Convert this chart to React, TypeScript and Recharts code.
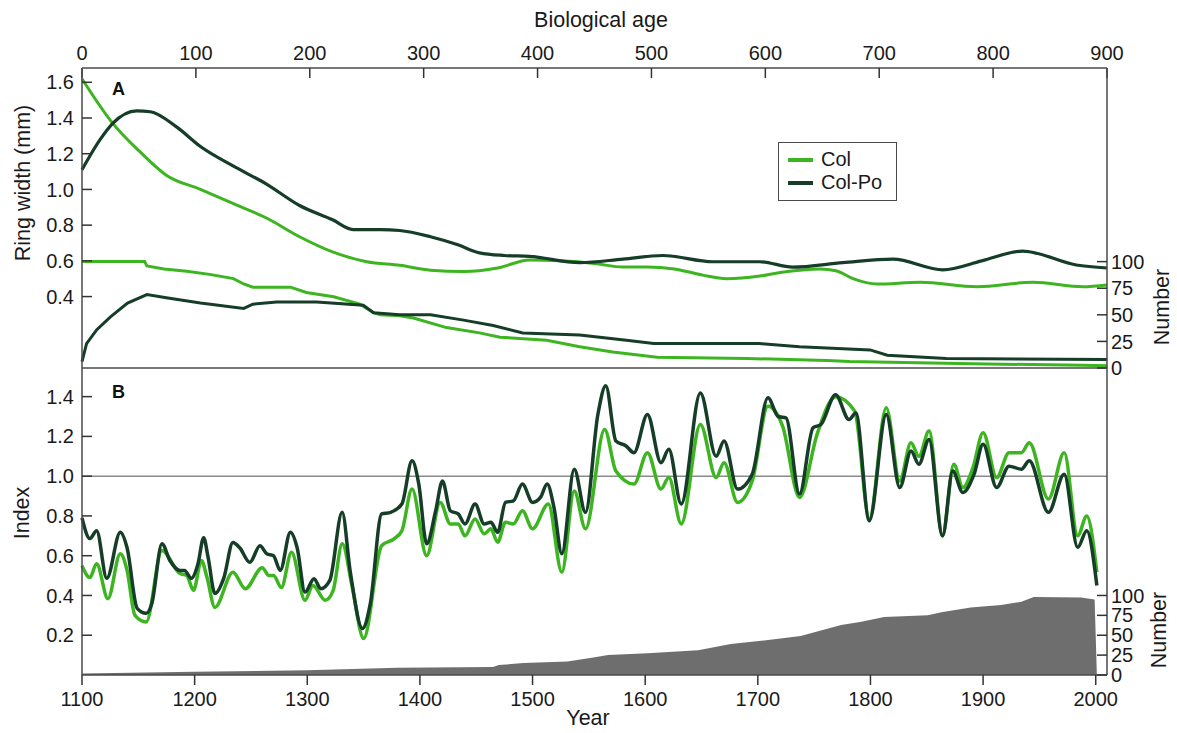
import React from 'react'
import { ComposedChart, Line, Area, XAxis, YAxis, ReferenceLine, Legend } from 'recharts'

// Panel A: mean ring width and sample depth against biological age
const colWidthAge = [0, 27, 51, 74, 104, 133, 162, 191, 220, 250, 279, 306, 335, 365, 393, 420, 450, 475, 496, 520, 545, 566, 595, 613, 648, 662, 677, 698, 736, 786, 835, 879, 900]
const colWidth = [1.62, 1.37, 1.21, 1.08, 1.0, 0.92, 0.84, 0.735, 0.65, 0.595, 0.575, 0.548, 0.54, 0.56, 0.605, 0.6, 0.585, 0.565, 0.565, 0.555, 0.52, 0.5, 0.515, 0.535, 0.555, 0.545, 0.5, 0.47, 0.48, 0.455, 0.48, 0.455, 0.465]

const colPoWidthAge = [0, 16, 27, 48, 60, 83, 104, 133, 162, 191, 220, 238, 262, 279, 306, 330, 349, 371, 393, 437, 475, 510, 554, 595, 624, 668, 712, 756, 790, 826, 873, 900]
const colPoWidth = [1.11, 1.28, 1.37, 1.44, 1.435, 1.35, 1.24, 1.13, 1.03, 0.91, 0.83, 0.775, 0.775, 0.77, 0.735, 0.69, 0.645, 0.63, 0.625, 0.59, 0.61, 0.63, 0.595, 0.595, 0.565, 0.59, 0.61, 0.55, 0.6, 0.655, 0.577, 0.56]

const colCountAge = [0, 55, 57, 72, 92, 112, 133, 142, 150, 183, 197, 221, 244, 256, 262, 279, 291, 320, 349, 367, 408, 437, 466, 505, 584, 654, 674, 782, 879, 900]
const colCount = [100, 100, 96, 93, 91, 88, 84, 79, 76, 76, 71, 67, 60, 52, 50, 49, 47, 38, 33, 29, 26, 20, 15, 10, 9, 7, 6, 4, 2.5, 2]

const colPoCountAge = [0, 4, 13, 25, 40, 57, 74, 104, 142, 150, 171, 206, 247, 256, 279, 306, 335, 361, 387, 437, 478, 502, 595, 630, 692, 707, 759, 900]
const colPoCount = [6, 23, 36, 48, 61, 69, 66, 61, 56, 60, 62, 62, 59, 52, 50, 50, 45, 40, 33, 31, 26, 23, 23, 20, 17, 12, 9, 8]

// Panel B: chronology index and sample depth against calendar year
const colIdxYear = [1100, 1107, 1113, 1123, 1134, 1140, 1147, 1157, 1171, 1187, 1193, 1199, 1206, 1211, 1218, 1234, 1245, 1260, 1266, 1270, 1277, 1286, 1298, 1305, 1316, 1323, 1331, 1340, 1350, 1366, 1377, 1384, 1393, 1406, 1418, 1427, 1434, 1440, 1449, 1457, 1463, 1469, 1476, 1483, 1491, 1500, 1514, 1526, 1537, 1547, 1564, 1574, 1590, 1602, 1614, 1621, 1632, 1649, 1663, 1670, 1682, 1695, 1709, 1722, 1737, 1753, 1769, 1786, 1799, 1814, 1826, 1836, 1843, 1852, 1864, 1874, 1882, 1891, 1900, 1912, 1923, 1934, 1941, 1958, 1972, 1984, 1992, 2001]
const colIdx = [0.55, 0.49, 0.56, 0.384, 0.61, 0.526, 0.3, 0.267, 0.626, 0.51, 0.5, 0.426, 0.576, 0.49, 0.34, 0.517, 0.434, 0.54, 0.5, 0.5, 0.44, 0.617, 0.376, 0.45, 0.376, 0.426, 0.66, 0.44, 0.184, 0.65, 0.685, 0.726, 0.935, 0.6, 0.868, 0.76, 0.76, 0.7, 0.785, 0.71, 0.735, 0.668, 0.768, 0.76, 0.826, 0.735, 0.86, 0.517, 0.926, 0.735, 1.235, 1.026, 0.96, 1.118, 0.935, 0.993, 0.76, 1.26, 0.993, 1.068, 0.868, 0.976, 1.352, 1.252, 0.893, 1.218, 1.4, 1.327, 0.785, 1.344, 0.976, 1.168, 1.1, 1.227, 0.7, 1.06, 0.943, 1.043, 1.218, 0.993, 1.118, 1.118, 1.168, 0.885, 1.118, 0.7, 0.8, 0.517]

const colPoIdxYear = [1100, 1107, 1113, 1122, 1134, 1140, 1149, 1157, 1162, 1171, 1178, 1187, 1191, 1197, 1203, 1208, 1212, 1218, 1226, 1234, 1240, 1249, 1258, 1264, 1270, 1276, 1285, 1291, 1298, 1306, 1312, 1320, 1331, 1338, 1349, 1356, 1366, 1374, 1384, 1393, 1399, 1406, 1414, 1420, 1427, 1434, 1440, 1449, 1457, 1463, 1469, 1476, 1483, 1491, 1500, 1507, 1513, 1519, 1526, 1537, 1547, 1558, 1565, 1574, 1583, 1590, 1602, 1614, 1621, 1632, 1649, 1663, 1670, 1682, 1695, 1709, 1718, 1725, 1737, 1749, 1756, 1769, 1781, 1787, 1799, 1814, 1826, 1836, 1843, 1852, 1864, 1873, 1882, 1892, 1900, 1912, 1923, 1934, 1941, 1958, 1972, 1984, 1992, 2001]
const colPoIdx = [0.79, 0.686, 0.726, 0.486, 0.718, 0.64, 0.335, 0.31, 0.36, 0.66, 0.576, 0.526, 0.526, 0.486, 0.56, 0.69, 0.59, 0.41, 0.49, 0.667, 0.64, 0.567, 0.65, 0.61, 0.6, 0.526, 0.718, 0.64, 0.417, 0.484, 0.434, 0.476, 0.818, 0.526, 0.234, 0.36, 0.81, 0.818, 0.86, 1.077, 0.96, 0.66, 0.826, 0.976, 0.826, 0.81, 0.76, 0.86, 0.76, 0.768, 0.718, 0.868, 0.876, 0.96, 0.868, 0.893, 0.96, 0.843, 0.61, 1.035, 0.818, 1.31, 1.455, 1.177, 1.152, 1.118, 1.31, 1.068, 1.135, 0.86, 1.418, 1.1, 1.177, 0.935, 1.01, 1.394, 1.3, 1.293, 0.91, 1.243, 1.26, 1.41, 1.285, 1.318, 0.776, 1.31, 0.943, 1.127, 1.06, 1.185, 0.7, 1.026, 0.918, 1.01, 1.16, 0.943, 1.05, 1.035, 1.077, 0.818, 1.01, 0.642, 0.726, 0.45]

const depthYear = [1100, 1200, 1300, 1380, 1465, 1470, 1492, 1531, 1554, 1567, 1602, 1647, 1676, 1703, 1720, 1738, 1756, 1774, 1792, 1812, 1851, 1863, 1889, 1916, 1934, 1945, 1987, 1999, 2001]
const depthCount = [2, 4, 6, 9, 10, 12.5, 15, 17, 22, 25, 27.5, 31, 39, 43, 46, 49, 56, 63, 67, 73, 75, 79, 85, 88, 92, 98, 97.5, 95, 0]

const ageTicks = [0, 100, 200, 300, 400, 500, 600, 700, 800, 900]
const yearTicks = [1100, 1200, 1300, 1400, 1500, 1600, 1700, 1800, 1900, 2000]
const widthTicks = [0.4, 0.6, 0.8, 1.0, 1.2, 1.4, 1.6]
const indexTicks = [0.2, 0.4, 0.6, 0.8, 1.0, 1.2, 1.4]
const countTicks = [0, 25, 50, 75, 100]

const FONT = '"Liberation Sans", Arial, Helvetica, sans-serif'
const LIGHT = '#3cb521'
const DARK = '#153d28'
const GREY = '#6e6e6e'
const AXIS = '#4a4a4a'

const tick = { fontSize: 20, fill: '#1a1a1a', fontFamily: FONT }
const axisLine = { stroke: AXIS, strokeWidth: 1.5 }
const tickLine = { stroke: '#333', strokeWidth: 1.5 }

const zip = (xs: number[], ys: number[]) => xs.map((x, i) => ({ x, y: ys[i] }))

// axis titles drawn centred on a fixed point of the chart surface
const title = (text: string, x: number, y: number, angle = 0) => () => (
  <text
    x={x}
    y={y}
    textAnchor="middle"
    dominantBaseline="central"
    transform={angle ? `rotate(${angle} ${x} ${y})` : undefined}
    fontSize={21.5}
    fill="#1a1a1a"
    fontFamily={FONT}
  >
    {text}
  </text>
)

function LegendBox({ payload }: any) {
  const items = (payload || []).filter((p: any) => p.type !== 'none')
  return (
    <div
      style={{
        border: `1.5px solid ${AXIS}`,
        background: '#fff',
        padding: '5px 14px 6px 9px',
        fontFamily: FONT,
        fontSize: 20,
        lineHeight: '23px',
        color: '#1a1a1a',
      }}
    >
      {items.map((p: any) => (
        <div key={p.value} style={{ display: 'flex', alignItems: 'center' }}>
          <span style={{ display: 'inline-block', width: 25, height: 4, background: p.color, marginRight: 8 }} />
          {p.value}
        </div>
      ))}
    </div>
  )
}

const letter = (top: number): React.CSSProperties => ({
  position: 'absolute',
  left: 112,
  top,
  fontFamily: FONT,
  fontWeight: 'bold',
  fontSize: 18,
  lineHeight: '18px',
  color: '#111',
})

export default function App() {
  return (
    <div style={{ position: 'absolute', left: 0, top: 0, width: 1177, height: 733, background: '#fff' }}>
      <div style={{ position: 'absolute', left: 0, top: 0 }}>
        <ComposedChart width={1177} height={380} margin={{ top: 28, right: 10, bottom: 12, left: 2 }}>
          <XAxis
            type="number"
            dataKey="x"
            orientation="top"
            domain={[0, 900]}
            ticks={ageTicks}
            interval={0}
            height={40}
            tick={tick}
            tickSize={-10}
            tickMargin={18}
            tickLine={tickLine}
            axisLine={axisLine}
            label={title('Biological age', 601, 20)}
          />
          <YAxis
            yAxisId="left"
            type="number"
            domain={[0, 1.68]}
            ticks={widthTicks}
            interval={0}
            width={80}
            tick={tick}
            tickSize={-10}
            tickMargin={18}
            tickLine={tickLine}
            axisLine={axisLine}
            tickFormatter={(v: number) => v.toFixed(1)}
            label={title('Ring width (mm)', 23, 183, -90)}
          />
          <YAxis
            yAxisId="right"
            orientation="right"
            type="number"
            domain={[0, 282]}
            ticks={countTicks}
            interval={0}
            width={60}
            tick={tick}
            tickSize={-10}
            tickMargin={14}
            tickLine={tickLine}
            axisLine={axisLine}
            label={title('Number', 1162, 307, -90)}
          />
          <ReferenceLine yAxisId="left" y={0} stroke={AXIS} strokeWidth={1.5} />
          <Line yAxisId="right" data={zip(colCountAge, colCount)} dataKey="y" type="linear" stroke={LIGHT} strokeWidth={3} dot={false} activeDot={false} legendType="none" isAnimationActive={false} />
          <Line yAxisId="right" data={zip(colPoCountAge, colPoCount)} dataKey="y" type="linear" stroke={DARK} strokeWidth={3} dot={false} activeDot={false} legendType="none" isAnimationActive={false} />
          <Line yAxisId="left" name="Col" data={zip(colWidthAge, colWidth)} dataKey="y" type="monotone" stroke={LIGHT} strokeWidth={3} dot={false} activeDot={false} isAnimationActive={false} />
          <Line yAxisId="left" name="Col-Po" data={zip(colPoWidthAge, colPoWidth)} dataKey="y" type="monotone" stroke={DARK} strokeWidth={3.2} dot={false} activeDot={false} isAnimationActive={false} />
          <Legend
            layout="vertical"
            align="center"
            verticalAlign="middle"
            content={<LegendBox />}
            wrapperStyle={{ left: 778, top: 142, width: 'auto' }}
          />
        </ComposedChart>
      </div>

      <div style={{ position: 'absolute', left: 0, top: 368 }}>
        <ComposedChart width={1177} height={365} margin={{ top: 0, right: 10, bottom: 18, left: 2 }}>
          <XAxis
            type="number"
            dataKey="x"
            domain={[1100, 2010]}
            ticks={yearTicks}
            interval={0}
            height={40}
            tick={tick}
            tickSize={10}
            tickMargin={7}
            tickLine={tickLine}
            axisLine={axisLine}
            label={title('Year', 588, 350)}
          />
          <YAxis
            yAxisId="left"
            type="number"
            domain={[0, 1.544]}
            ticks={indexTicks}
            interval={0}
            width={80}
            tick={tick}
            tickSize={-10}
            tickMargin={18}
            tickLine={tickLine}
            axisLine={axisLine}
            tickFormatter={(v: number) => v.toFixed(1)}
            label={title('Index', 22, 145, -90)}
          />
          <YAxis
            yAxisId="right"
            orientation="right"
            type="number"
            domain={[0, 386]}
            ticks={countTicks}
            interval={0}
            width={60}
            tick={tick}
            tickSize={-10}
            tickMargin={14}
            tickLine={tickLine}
            axisLine={axisLine}
            label={title('Number', 1159, 262, -90)}
          />
          <Area yAxisId="right" data={zip(depthYear, depthCount)} dataKey="y" type="linear" fill={GREY} fillOpacity={1} stroke="none" dot={false} activeDot={false} isAnimationActive={false} />
          <ReferenceLine yAxisId="left" y={1} stroke="#8a8a8a" strokeWidth={1.5} />
          <Line yAxisId="left" name="Col" data={zip(colIdxYear, colIdx)} dataKey="y" type="monotone" stroke={LIGHT} strokeWidth={3.5} dot={false} activeDot={false} isAnimationActive={false} />
          <Line yAxisId="left" name="Col-Po" data={zip(colPoIdxYear, colPoIdx)} dataKey="y" type="monotone" stroke={DARK} strokeWidth={3.5} dot={false} activeDot={false} isAnimationActive={false} />
        </ComposedChart>
      </div>

      <div style={letter(80)}>A</div>
      <div style={letter(383)}>B</div>
    </div>
  )
}
